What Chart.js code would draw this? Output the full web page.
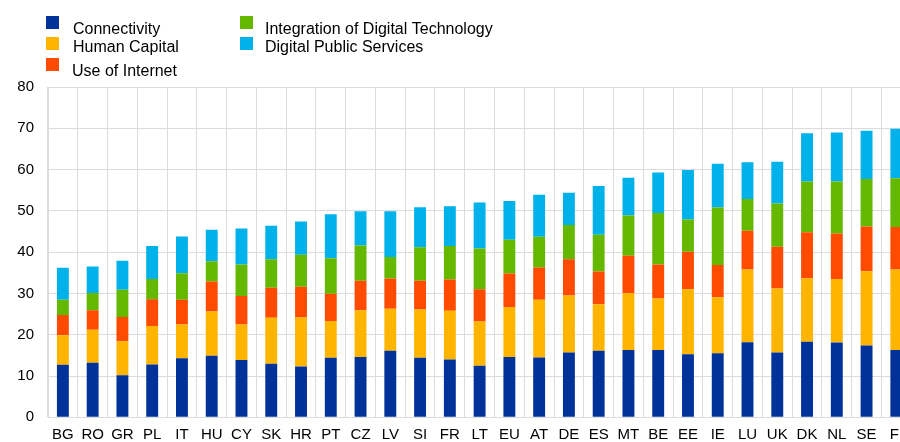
<!DOCTYPE html>
<html>
<head>
<meta charset="utf-8">
<script src="https://cdn.jsdelivr.net/npm/chart.js@4/dist/chart.umd.min.js"></script>
<style>
  html, body { margin: 0; padding: 0; background: #fff; overflow: hidden; }
  #wrap { position: relative; width: 912px; height: 442px; }
</style>
</head>
<body>
<div id="wrap"><canvas id="c" width="912" height="442"></canvas></div>
<script>
const categories = ["BG","RO","GR","PL","IT","HU","CY","SK","HR","PT","CZ","LV","SI","FR","LT","EU","AT","DE","ES","MT","BE","EE","IE","LU","UK","DK","NL","SE","FI"];
const connectivity   = [12.7,13.2,10.2,12.8,14.3,14.9,13.9,13.0,12.3,14.4,14.6,16.1,14.4,14.0,12.5,14.6,14.5,15.7,16.1,16.3,16.3,15.3,15.5,18.2,15.7,18.3,18.1,17.4,16.3];
const humanCapital   = [7.2,8.0,8.2,9.3,8.2,10.7,8.6,11.1,11.9,8.9,11.3,10.2,11.7,11.8,10.7,12.1,14.0,13.8,11.3,13.8,12.5,15.7,13.6,17.6,15.5,15.4,15.4,18.0,19.5];
const useOfInternet  = [4.9,4.7,5.9,6.5,6.0,7.3,6.9,7.3,7.4,6.6,7.2,7.3,7.0,7.6,7.8,8.1,7.8,8.8,7.9,9.0,8.2,9.1,7.8,9.4,10.1,11.1,11.0,10.8,10.3];
const integration    = [3.7,4.2,6.6,4.9,6.4,4.9,7.6,6.9,7.8,8.6,8.5,5.2,8.1,8.1,9.9,8.2,7.4,8.3,8.9,9.8,12.5,7.8,13.9,7.7,10.5,12.3,12.6,11.5,11.8];
const publicServices = [7.7,6.4,7.0,8.0,8.9,7.6,8.7,8.1,8.0,10.7,8.3,11.1,9.7,9.6,11.1,9.4,10.2,7.8,11.8,9.1,9.8,12.0,10.6,8.9,10.1,11.7,11.9,11.7,12.0];
const seriesNames = ["Connectivity","Human Capital","Use of Internet","Integration of Digital Technology","Digital Public Services"];
const yTicks = [0,10,20,30,40,50,60,70,80];

const colors = ["#003299","#FFB400","#FF4B00","#65B800","#00B1EA"];
const FONT = "'Liberation Sans', Arial, Helvetica, sans-serif";

// legend placement: [boxX, boxY, textX, textBaseline]
const legendPos = [
  [46, 16, 73, 33.5],
  [46, 37, 73, 52],
  [46, 58, 72, 76],
  [240, 16, 265, 33.5],
  [240, 37, 265, 52]
];

const legendPlugin = {
  id: 'customLegend',
  afterDraw(chart) {
    const ctx = chart.ctx;
    ctx.save();
    ctx.font = "16px " + FONT;
    ctx.textBaseline = 'alphabetic';
    ctx.textAlign = 'left';
    chart.data.datasets.forEach((ds, i) => {
      const p = legendPos[i];
      ctx.fillStyle = ds.backgroundColor;
      ctx.fillRect(p[0], p[1], 13, 13);
      ctx.fillStyle = '#000';
      ctx.fillText(ds.label, p[2], p[3]);
    });
    ctx.restore();
  }
};

const seriesData = [connectivity, humanCapital, useOfInternet, integration, publicServices];

new Chart(document.getElementById('c'), {
  type: 'bar',
  data: {
    labels: categories,
    datasets: seriesData.map((d, i) => ({
      label: seriesNames[i],
      data: d,
      backgroundColor: colors[i],
      borderWidth: 0,
      categoryPercentage: 0.8,
      barPercentage: 0.5
    }))
  },
  options: {
    responsive: false,
    animation: false,
    devicePixelRatio: 1,
    layout: { padding: { top: 87, left: 0, right: 0, bottom: 0 } },
    plugins: { legend: { display: false }, tooltip: { enabled: false } },
    scales: {
      x: {
        stacked: true,
        grid: { color: '#dcdcdc', lineWidth: 1, offset: true, drawTicks: false },
        border: { color: '#dcdcdc', width: 1 },
        ticks: { color: '#000', font: { family: FONT, size: 15 }, padding: 9, maxRotation: 0, autoSkip: false },
        afterFit(scale) { scale.height = 24.7; }
      },
      y: {
        stacked: true,
        min: 0, max: 80,
        afterBuildTicks(scale) { scale.ticks = yTicks.map(v => ({ value: v })); },
        grid: { color: '#dcdcdc', lineWidth: 1, drawTicks: false },
        border: { color: '#dcdcdc', width: 1 },
        ticks: { color: '#000', font: { family: FONT, size: 15 }, padding: 14 },
        afterFit(scale) { scale.width = 48; }
      }
    }
  },
  plugins: [legendPlugin]
});
</script>
</body>
</html>
